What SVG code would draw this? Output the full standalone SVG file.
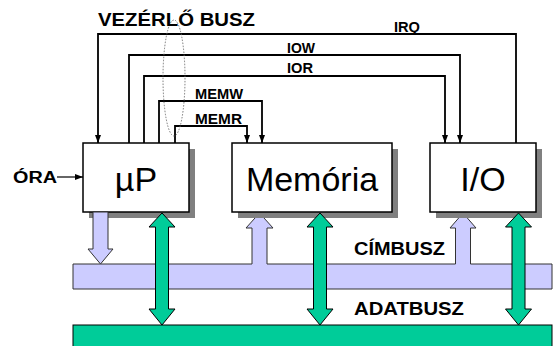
<svg xmlns="http://www.w3.org/2000/svg" width="558" height="346" viewBox="0 0 558 346">
  <style>
    .lbl { font-family: "Liberation Sans", Arial, sans-serif; font-weight: bold; fill: #000; }
    .big { font-family: "Liberation Sans", Arial, sans-serif; font-size: 34px; fill: #000; text-anchor: middle; }
    .box { fill: #fff; stroke: #000; stroke-width: 1.5; }
    .shadow { fill: #808080; }
    .sig { fill: none; stroke: #000; stroke-width: 1.8; }
    .addr { fill: #ccccff; stroke: #333; stroke-width: 1; }
    .data { fill: #00cc99; stroke: #000; stroke-width: 1; }
  </style>
  <defs>
    <marker id="ah" markerWidth="8" markerHeight="8" viewBox="0 0 8 8" refX="8" refY="4" orient="auto" markerUnits="userSpaceOnUse">
      <path d="M0,1 L8,4 L0,7 Z" fill="#000"/>
    </marker>
  </defs>

  <rect width="558" height="346" fill="#fff"/>

  <!-- address bus with branches up to memory and I/O -->
  <g id="cimbusz">
    <path class="addr" d="M73,264 H252 V228 H246 L259.5,213 L273,228 H267 V264 H455.5 V228 H450 L463,213 L476,228 H470.5 V264 H552 V289 H73 Z"/>
    <text class="lbl" x="354" y="255" font-size="18" textLength="91" lengthAdjust="spacingAndGlyphs">CÍMBUSZ</text>
  </g>

  <!-- data bus -->
  <g id="adatbusz">
    <rect class="data" x="73" y="325" width="479" height="30"/>
    <text class="lbl" x="354" y="315" font-size="18" textLength="110" lengthAdjust="spacingAndGlyphs">ADATBUSZ</text>
  </g>

  <!-- processor -->
  <g id="up">
    <rect class="shadow" x="89" y="149" width="106" height="69"/>
    <rect class="box" x="83" y="143" width="106" height="69"/>
    <text class="big" x="136" y="191">µP</text>
  </g>

  <!-- memory -->
  <g id="memoria">
    <rect class="shadow" x="238" y="149" width="160" height="69"/>
    <rect class="box" x="232" y="143" width="160" height="69"/>
    <text class="big" x="312" y="191">Memória</text>
  </g>

  <!-- I/O -->
  <g id="io">
    <rect class="shadow" x="436" y="149" width="106" height="69"/>
    <rect class="box" x="430" y="143" width="106" height="69"/>
    <text class="big" x="483" y="191">I/O</text>
  </g>

  <!-- connectors -->
  <g id="connectors">
    <!-- processor drives the address bus -->
    <path class="addr" d="M93,212 H108 V249 H113 L100.5,264 L88,249 H93 Z"/>

    <!-- bidirectional data paths -->
    <path class="data" d="M162,213 L175,227 H168.5 V309 H175 L162,325 L149,309 H155.5 V227 H149 Z"/>
    <path class="data" d="M320,213 L333,227 H326.5 V309 H333 L320,325 L307,309 H313.5 V227 H307 Z"/>
    <path class="data" d="M518.5,213 L531.5,227 H525 V309 H531.5 L518.5,325 L505.5,309 H512 V227 H505.5 Z"/>

    <!-- control bus signals -->
    <path class="sig" d="M516,143 V34 H98 V143" marker-end="url(#ah)"/>
    <path class="sig" d="M129,143 V55 H460 V143" marker-end="url(#ah)"/>
    <path class="sig" d="M144,143 V76 H445 V143" marker-end="url(#ah)"/>
    <path class="sig" d="M159,143 V101 H262 V143" marker-end="url(#ah)"/>
    <path class="sig" d="M175,143 V126 H247 V143" marker-end="url(#ah)"/>

    <!-- clock input -->
    <path d="M57,177 H83" stroke="#000" stroke-width="1.2" fill="none" marker-end="url(#ah)"/>

    <!-- grouping of the control lines -->
    <ellipse cx="174" cy="78" rx="11" ry="58" fill="none" stroke="#666" stroke-width="0.9" stroke-dasharray="1.5 1.5"/>
  </g>

  <!-- labels -->
  <g id="labels">
    <text class="lbl" x="98" y="26" font-size="18" textLength="157" lengthAdjust="spacingAndGlyphs">VEZÉRLŐ BUSZ</text>
    <text class="lbl" x="394" y="32" font-size="14" textLength="26" lengthAdjust="spacingAndGlyphs">IRQ</text>
    <text class="lbl" x="287" y="53" font-size="14" textLength="28" lengthAdjust="spacingAndGlyphs">IOW</text>
    <text class="lbl" x="287" y="73" font-size="14" textLength="26" lengthAdjust="spacingAndGlyphs">IOR</text>
    <text class="lbl" x="195" y="99" font-size="15" textLength="48" lengthAdjust="spacingAndGlyphs">MEMW</text>
    <text class="lbl" x="195" y="124" font-size="15" textLength="47" lengthAdjust="spacingAndGlyphs">MEMR</text>
    <text class="lbl" x="13" y="183" font-size="16" textLength="44" lengthAdjust="spacingAndGlyphs">ÓRA</text>
  </g>
</svg>
